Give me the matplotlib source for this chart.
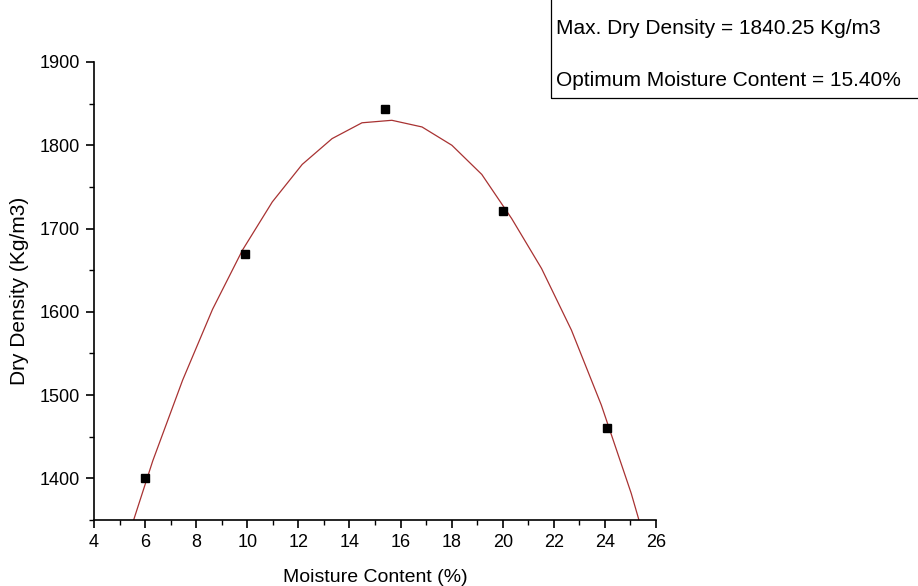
import matplotlib
matplotlib.use("Agg")
import matplotlib.pyplot as plt
from matplotlib.ticker import MultipleLocator
from matplotlib.patches import Rectangle

plt.rcParams['font.family'] = ['Liberation Sans', 'DejaVu Sans']

# measured data points
moisture = [6.0, 9.9, 15.4, 20.0, 24.1]
density = [1401, 1670, 1843, 1721, 1460]

# fitted curve vertices
curve_x = [5.13, 6.30, 7.47, 8.64, 9.81, 10.98, 12.15, 13.32, 14.49, 15.66,
           16.84, 18.01, 19.18, 20.35, 21.52, 22.69, 23.86, 25.03, 26.20]
curve_y = [1310, 1421, 1518, 1603, 1674, 1732, 1777, 1808, 1827, 1830,
           1822, 1800, 1765, 1712, 1652, 1578, 1488, 1382, 1258]

box_lines = ["Max. Dry Density = 1840.25 Kg/m3", "Optimum Moisture Content = 15.40%"]

W, H = 918, 586
fig = plt.figure(figsize=(W / 100, H / 100), dpi=100)
ax = fig.add_axes([94 / W, 1 - 520 / H, (656 - 94) / W, (520 - 62) / H])

ax.plot(curve_x, curve_y, color='#a83232', lw=0.9, zorder=2)
ax.plot(moisture, density, linestyle='none', marker='s', markersize=6,
        color='black', zorder=3)

ax.set_xlim(4, 26)
ax.set_ylim(1350, 1900)
ax.xaxis.set_major_locator(MultipleLocator(2))
ax.xaxis.set_minor_locator(MultipleLocator(1))
ax.yaxis.set_major_locator(MultipleLocator(100))
ax.yaxis.set_minor_locator(MultipleLocator(50))
for s in ['top', 'right']:
    ax.spines[s].set_visible(False)
for s in ['left', 'bottom']:
    ax.spines[s].set_linewidth(1.2)
ax.tick_params(which='major', direction='out', length=6, width=1.2,
               labelsize=13, pad=4)
ax.tick_params(which='minor', direction='out', length=3.5, width=1.0)

ax.set_xlabel('Moisture Content (%)', fontsize=14, labelpad=13)
ax.set_ylabel('Dry Density (Kg/m3)', fontsize=15, labelpad=8)

# annotation box
rect = Rectangle((551 / W, 1 - 98 / H), (W - 551 + 10) / W, 98 / H + 0.01,
                 transform=fig.transFigure, fill=False, edgecolor='black',
                 lw=0.9, clip_on=False)
fig.patches.append(rect)
fig.text(556 / W, 1 - 29 / H, box_lines[0], fontsize=15, va='center', ha='left')
fig.text(556 / W, 1 - 80 / H, box_lines[1], fontsize=15, va='center', ha='left')

fig.savefig('out.png', dpi=100)
